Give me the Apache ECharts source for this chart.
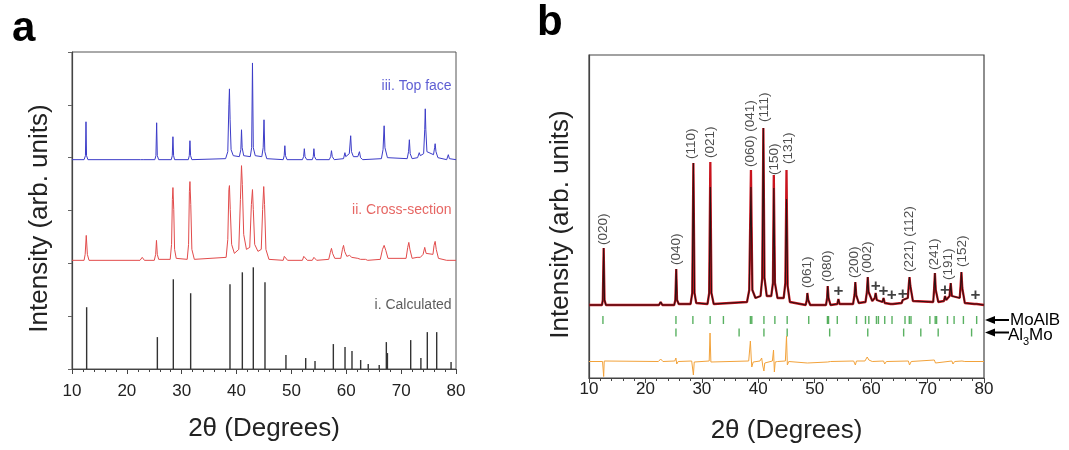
<!DOCTYPE html>
<html>
<head>
<meta charset="utf-8">
<script src="https://cdn.jsdelivr.net/npm/echarts@6/dist/echarts.min.js"></script>
<style>html,body{margin:0;padding:0;background:#fff}#c{width:1069px;height:450px}</style>
</head>
<body>
<div id="c"></div>
<script>
// ---------- Panel a ----------
const xTicksA = [10, 20, 30, 40, 50, 60, 70, 80];
// iii. Top face (offset pattern)
const topFace = [[10,210],[12.2,210],[12.45,214],[12.55,248],[12.65,214],[12.9,210],
[22.5,210],[22.8,212],[23.1,210],
[25.1,210],[25.3,214],[25.43,247],[25.55,214],[25.8,210],
[28.1,210],[28.28,214],[28.4,233],[28.52,214],[28.7,210],
[31.2,210],[31.38,214],[31.5,229],[31.62,214],[31.85,210],
[38.0,211],[38.4,218],[38.6,265],[38.7,281],[38.82,250],[39.0,220],[39.4,214],
[40.5,213],[40.78,220],[40.9,240],[41.02,222],[41.3,214],
[42.5,213],[42.75,222],[42.9,307],[43.05,222],[43.4,214],
[44.6,213],[44.85,222],[45.0,250],[45.15,218],[45.5,211],
[48.5,210],[48.68,214],[48.8,224],[48.92,214],[49.2,210],
[52.0,210],[52.22,213],[52.35,221],[52.48,213],[52.8,210],
[53.8,210],[53.98,213],[54.1,221],[54.22,213],[54.5,210],
[56.9,210],[57.15,213],[57.3,219],[57.45,213],[57.8,210],
[59.5,211],[59.75,217],[59.9,213],[60.55,216],[60.8,234],[60.95,218],[61.3,213],[62.1,213],[62.4,218],[62.6,212],[63.0,210],
[66.4,211],[66.7,220],[66.9,244],[67.05,222],[67.5,212],
[71.1,211],[71.35,218],[71.5,230],[71.65,216],[72.0,211],
[73.0,212],[73.3,217],[73.5,214],[74.1,216],[74.3,240],[74.4,261],[74.5,240],[74.7,218],
[75.9,215],[76.1,222],[76.2,226],[76.35,218],[76.7,212],
[78.3,210],[78.6,215],[78.8,211],[80,210]];
// ii. Cross-section
const crossSection = [[10,109],[12.2,109],[12.4,115],[12.6,134],[12.8,115],[13.1,109],
[22.4,109],[22.8,112],[23.2,109],
[25.0,109],[25.25,115],[25.4,129],[25.55,115],[25.8,110],
[27.9,110],[28.15,125],[28.3,170],[28.4,182],[28.55,160],[28.7,120],[29.0,111],
[31.0,110],[31.25,125],[31.4,178],[31.5,188],[31.65,165],[31.85,120],[32.3,110],
[38.1,112],[38.4,130],[38.6,180],[38.7,184],[38.85,160],[39.1,125],[39.6,116],
[40.4,120],[40.7,170],[40.9,204],[41.05,185],[41.3,135],[41.8,120],
[42.4,122],[42.7,165],[42.9,180],[43.05,160],[43.3,125],[43.9,118],
[44.5,120],[44.75,160],[44.95,183],[45.1,165],[45.35,120],[45.9,110],
[48.5,109],[48.7,113],[48.8,115],[48.95,112],[49.3,109],
[52.0,109],[52.25,113],[52.4,115],[52.55,112],[52.9,109],
[53.8,109],[54.0,111],[54.1,112],[54.25,110],[54.6,109],
[56.8,110],[57.1,117],[57.3,121],[57.5,116],[57.9,111],
[59.0,111],[59.3,120],[59.5,124],[59.7,118],[60.1,113],[60.6,114],[60.8,115],[61.0,112],[62.1,111],[62.4,112],[62.6,110],[63.5,110],[63.7,111],[63.9,109],
[66.2,110],[66.6,120],[66.9,124],[67.2,119],[67.6,111],
[70.9,111],[71.2,122],[71.4,127],[71.6,120],[72.0,111],
[72.9,112],[73.2,114],[73.5,112],[74.0,115],[74.3,122],[74.55,116],[75.8,115],[76.0,124],[76.2,128],[76.4,120],[76.8,111],
[78.3,109],[78.6,111],[78.9,109],[80,109]];
// i. Calculated (stick pattern)
const calcPos =    [12.67,25.56,28.47,31.63,38.8,41.05,43.05,45.18,49.0,52.6,54.3,57.64,59.77,61.04,62.62,64.0,66.0,67.3,67.5,71.74,73.6,74.77,76.48,79.1];
const calcHeight = [62,   32,   90,   76,   85,  97,   102,  87,   14,  11,  8,   25,   22,   18,   9,    5,   4,   27,  16,  29,   11,  37,   37,   7];
const labelsA = ['iii. Top face', 'ii. Cross-section', 'i. Calculated'];
const labelsAY = [284, 159, 64];
const labelsAColor = ['#3434c8', '#e0403c', '#333333'];

// ---------- Panel b ----------
const calcB = [[10,73],[12.3,73],[12.45,78],[12.6,130],[12.75,78],[13.0,73],
[22.4,73],[22.7,76],[23.0,73],
[25.1,73],[25.3,78],[25.46,109],[25.6,78],[25.9,74],
[28.0,74],[28.3,85],[28.5,215],[28.7,85],[29.0,75],
[31.0,74],[31.3,85],[31.5,216],[31.7,85],[32.1,74],
[38.0,76],[38.4,88],[38.7,208],[38.95,88],[39.5,80],
[40.4,82],[40.7,100],[40.9,250],[41.1,100],[41.5,82],
[42.3,82],[42.6,95],[42.75,203],[42.95,95],[43.4,80],
[44.5,80],[44.8,95],[45.0,208],[45.2,92],[45.6,76],
[48.4,73],[48.6,78],[48.7,85],[48.85,78],[49.2,73],
[52.0,73],[52.2,80],[52.3,92],[52.45,80],[52.8,73],
[54.0,74],[54.2,79],[54.4,74],
[56.8,74],[57.05,83],[57.2,96],[57.35,83],[57.8,75],
[59.0,76],[59.25,86],[59.4,101],[59.55,86],[60.2,77],[60.65,80],[60.8,85],[61.0,78],[62.0,76],[62.2,80],[62.4,75],[63.45,74],[63.65,76],[63.85,74],[65.4,75],[65.6,78],[65.8,76],
[66.5,80],[66.7,95],[66.8,101],[66.95,92],[67.4,77],
[71.0,76],[71.15,88],[71.3,105],[71.45,88],[71.9,76],
[72.9,77],[73.1,82],[73.3,78],[73.9,82],[74.1,95],[74.3,82],[75.7,80],[75.85,92],[76.0,106],[76.15,90],[76.6,75],
[78.3,74],[78.5,76],[78.7,74],[80,73]];
const obsB = [[10,73],[12.3,73],[12.45,78],[12.6,130],[12.75,78],[13.0,73],
[22.4,73],[22.7,76],[23.0,73],
[25.1,73],[25.3,78],[25.46,109],[25.6,78],[25.9,74],
[28.0,74],[28.3,85],[28.5,215],[28.7,85],[29.0,75],
[31.0,74],[31.3,85],[31.5,191],[31.7,85],[32.1,74],
[38.0,76],[38.4,88],[38.7,191],[38.95,88],[39.5,80],
[40.4,82],[40.7,100],[40.9,250],[41.1,100],[41.5,82],
[42.3,82],[42.6,95],[42.75,190],[42.95,95],[43.4,80],
[44.5,80],[44.8,95],[45.0,179],[45.2,92],[45.6,76],
[48.4,73],[48.6,78],[48.7,85],[48.85,78],[49.2,73],
[52.0,73],[52.2,80],[52.3,92],[52.45,80],[52.8,73],
[54.0,74],[54.2,79],[54.4,74],
[56.8,74],[57.05,83],[57.2,96],[57.35,83],[57.8,75],
[59.0,76],[59.25,86],[59.4,101],[59.55,86],[60.2,77],[60.65,80],[60.8,85],[61.0,78],[62.0,76],[62.2,80],[62.4,75],[63.45,74],[63.65,76],[63.85,74],[65.4,75],[65.6,78],[65.8,76],
[66.5,80],[66.7,95],[66.8,101],[66.95,92],[67.4,77],
[71.0,76],[71.15,88],[71.3,105],[71.45,88],[71.9,76],
[72.9,77],[73.1,82],[73.3,78],[73.9,82],[74.1,95],[74.3,82],[75.7,80],[75.85,92],[76.0,106],[76.15,90],[76.6,75],
[78.3,74],[78.5,76],[78.7,74],[80,73]];
const diffB = [[10,16.5],[12.4,16.5],[12.55,15],[12.6,1.5],[12.7,17],[12.9,16.5],
[22.3,16.5],[22.7,19],[23.1,16.5],
[25.2,17],[25.4,20],[25.55,14],[25.8,16.5],
[28.2,17],[28.4,18],[28.5,3],[28.65,16],[29,16.5],
[31.3,17],[31.45,45],[31.6,16],[31.9,16.5],
[38.3,17],[38.6,37],[38.75,20],[38.85,11],[39.1,16],
[40.3,17],[40.6,20],[40.8,12],[41.0,7],[41.15,15],[41.5,16.5],
[42.5,17],[42.7,28],[42.85,6],[43.0,16],[43.4,16.5],
[44.8,17],[45.0,42],[45.15,13],[45.4,16.5],
[48.7,15],[49,16.5],[52.3,16],[52.5,17.5],[52.8,16.5],
[56.9,17],[57.2,13],[57.4,17],[58.9,17],[59.3,21],[59.6,18],[60.2,16.5],
[62.2,17],[62.4,14],[62.7,16.5],
[66.6,17],[66.8,13],[67.1,16.5],
[71.2,18],[71.4,15],[71.7,16.5],
[74.3,17],[74.5,14],[74.8,16.5],
[76.1,17],[76.3,19],[76.6,16.5],[80,16.5]];
const tickMoAlB = [12.47,25.41,28.41,31.47,33.82,38.6,38.85,41.0,42.94,45.12,48.94,52.25,52.45,54.0,57.41,59.0,59.59,60.94,61.29,62.41,63.7,66.0,66.76,67.06,70.41,71.35,71.6,73.53,74.7,76.35,78.7];
const tickAl3Mo = [25.41,36.6,41.0,45.12,52.65,59.4,65.76,68.8,71.88,77.8];
const rowMoAlB = 58, rowAl3Mo = 45.5;
const hklText = ['(020)','(040)','(110)','(021)','(060) (041)','(111)','(150)','(131)','(061)','(080)','(200)','(002)','(221) (112)','(241)','(191)','(152)'];
const hklX =    [12.6,  25.5,  28.1,  31.55, 38.66,        41.03, 42.8,  45.25, 48.7,  52.2,  57.1,  59.4,  66.8,          71.2,  73.7,  76.1];
const hklY =    [133,   113,   219,   220,   211,          256,   203,   214,   90,    96,    100,   105,   106,           108,   98,    111];
const plusX = [54.2, 60.8, 62.2, 63.65, 65.6, 73.1, 78.5];
const plusY = [87,   92,   87,   83,    84,   88,   83];

const FONT = 'Liberation Sans, Arial, Helvetica, sans-serif';

function xAxisCfg(grid, gap, margin) {
  return {
    type: 'value', gridIndex: grid, min: 10, max: 80, interval: 10,
    name: '2\u03b8 (Degrees)', nameLocation: 'middle', nameGap: gap,
    nameTextStyle: { fontFamily: FONT, fontSize: 26, color: '#222' },
    axisLine: { show: true, lineStyle: { color: '#444', width: 1.2 } },
    axisTick: { show: true, length: 5, lineStyle: { color: '#444' } },
    minorTick: { show: true, splitNumber: 5, length: 3, lineStyle: { color: '#444' } },
    axisLabel: { fontFamily: FONT, fontSize: 17, color: '#222', margin: margin },
    splitLine: { show: false }, minorSplitLine: { show: false }
  };
}
function yAxisCfg(grid, max, interval, gap, ticks) {
  return {
    type: 'value', gridIndex: grid, min: 0, max: max, interval: interval,
    name: 'Intensity (arb. units)', nameLocation: 'middle', nameGap: gap,
    nameTextStyle: { fontFamily: FONT, fontSize: 26, color: '#222', padding: [0, 16, 0, 0] },
    axisLine: { show: true, lineStyle: { color: '#444', width: 1.2 } },
    axisTick: { show: ticks, length: 4, lineStyle: { color: '#666' } },
    axisLabel: { show: false }, splitLine: { show: false }
  };
}

const chart = echarts.init(document.getElementById('c'), null, { renderer: 'canvas' });
const option = {
  animation: false,
  backgroundColor: '#fff',
  grid: [
    { left: 72, top: 52, width: 384, height: 317, show: true, borderColor: '#555', borderWidth: 1 },
    { left: 589, top: 55, width: 395, height: 323, show: true, borderColor: '#444', borderWidth: 1.2 }
  ],
  xAxis: [xAxisCfg(0, 47, 14), xAxisCfg(1, 40, 3)],
  yAxis: [yAxisCfg(0, 318, 53, 19, true), yAxisCfg(1, 323, null, 15, false)],
  series: [
    { type: 'line', name: 'iii. Top face', xAxisIndex: 0, yAxisIndex: 0, data: topFace, showSymbol: false, symbol: 'none',
      lineStyle: { color: '#3c3cc8', width: 1 } },
    { type: 'line', name: 'ii. Cross-section', xAxisIndex: 0, yAxisIndex: 0, data: crossSection, showSymbol: false, symbol: 'none',
      lineStyle: { color: '#e24b4b', width: 1 } },
    { type: 'bar', name: 'i. Calculated', xAxisIndex: 0, yAxisIndex: 0, barWidth: 1.4,
      data: calcPos.map((x, i) => [x, calcHeight[i]]), itemStyle: { color: '#333' } },
    { type: 'scatter', xAxisIndex: 0, yAxisIndex: 0, symbolSize: 0, silent: true,
      data: labelsA.map((t, i) => ({ value: [79.2, labelsAY[i]], name: t, label: { color: labelsAColor[i] } })),
      label: { show: true, formatter: '{b}', position: [0, 0], align: 'right', verticalAlign: 'middle',
        fontFamily: FONT, fontSize: 14 } },

    { type: 'line', name: 'Calculated', xAxisIndex: 1, yAxisIndex: 1, data: calcB, symbol: 'none',
      lineStyle: { color: '#c8141e', width: 2.3 } },
    { type: 'line', name: 'Observed', xAxisIndex: 1, yAxisIndex: 1, data: obsB, symbol: 'none',
      lineStyle: { color: '#111', width: 1.1, opacity: 0.85 } },
    { type: 'line', name: 'Difference', xAxisIndex: 1, yAxisIndex: 1, data: diffB, symbol: 'none',
      lineStyle: { color: '#f2a23a', width: 1 } },
    { type: 'scatter', name: 'MoAlB', xAxisIndex: 1, yAxisIndex: 1, symbol: 'rect', symbolSize: [1.4, 8],
      data: tickMoAlB.map(x => [x, rowMoAlB]), itemStyle: { color: '#2f9e3a' } },
    { type: 'scatter', name: 'Al3Mo', xAxisIndex: 1, yAxisIndex: 1, symbol: 'rect', symbolSize: [1.4, 8],
      data: tickAl3Mo.map(x => [x, rowAl3Mo]), itemStyle: { color: '#2f9e3a' } },
    { type: 'scatter', xAxisIndex: 1, yAxisIndex: 1, symbolSize: 0, silent: true,
      data: hklText.map((t, i) => ({ value: [hklX[i], hklY[i]], name: t })),
      label: { show: true, formatter: '{b}', position: [0, 0], align: 'left', verticalAlign: 'middle', rotate: 90,
        fontFamily: FONT, fontSize: 13.5, color: '#222' } },
    { type: 'scatter', xAxisIndex: 1, yAxisIndex: 1, symbolSize: 0, silent: true,
      data: plusX.map((x, i) => [x, plusY[i]]),
      label: { show: true, formatter: '+', position: [0, 0], align: 'center', verticalAlign: 'middle',
        fontFamily: FONT, fontSize: 17, fontWeight: 'bold', color: '#111' } }
  ]
};
chart.setOption(option);

// side annotations (panel letters, phase arrows)
const p1 = chart.convertToPixel({ xAxisIndex: 1, yAxisIndex: 1 }, [80, rowMoAlB]);
const p2 = chart.convertToPixel({ xAxisIndex: 1, yAxisIndex: 1 }, [80, rowAl3Mo]);
function arrow(p) {
  const x0 = p[0] + 1, y = p[1];
  return [
    { type: 'line', shape: { x1: x0 + 8, y1: y, x2: x0 + 24, y2: y }, style: { stroke: '#000', lineWidth: 2 } },
    { type: 'polygon', shape: { points: [[x0, y], [x0 + 10, y - 4], [x0 + 10, y + 4]] }, style: { fill: '#000' } }
  ];
}
const tStyle = (t, size, w) => ({ text: t, fontFamily: FONT, fontSize: size, fontWeight: w || 'normal', fill: '#000' });
chart.setOption({
  graphic: [
    { type: 'text', left: 12, top: 8, style: tStyle('a', 42, 'bold') },
    { type: 'text', left: 537, top: 2, style: tStyle('b', 42, 'bold') },
    ...arrow(p1), ...arrow(p2),
    { type: 'text', x: p1[0] + 26, y: p1[1], style: Object.assign(tStyle('MoAlB', 17), { verticalAlign: 'middle' }) },
    { type: 'text', x: p2[0] + 24, y: p2[1] + 3, style: Object.assign(tStyle('Al', 17), { verticalAlign: 'middle' }) },
    { type: 'text', x: p2[0] + 39, y: p2[1] + 9, style: Object.assign(tStyle('3', 11), { verticalAlign: 'middle' }) },
    { type: 'text', x: p2[0] + 45, y: p2[1] + 3, style: Object.assign(tStyle('Mo', 17), { verticalAlign: 'middle' }) }
  ]
});
</script>
</body>
</html>
